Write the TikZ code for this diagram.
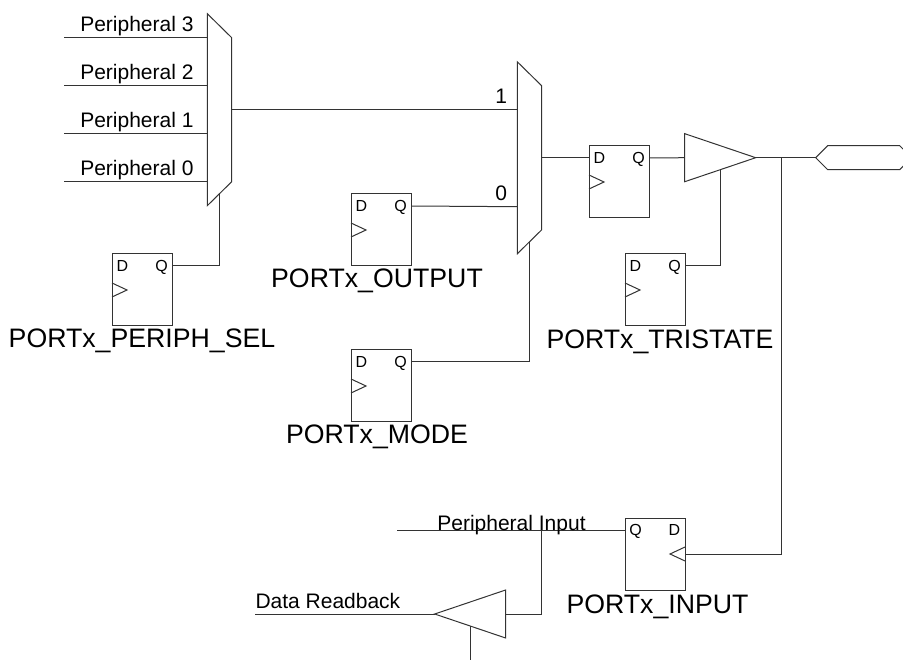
\documentclass[tikz,border=0pt]{standalone}
\usepackage{fontspec}
\setmainfont{Liberation Sans}
\usetikzlibrary{positioning, calc, shapes.geometric, shapes.symbols}

\begin{document}
\begin{tikzpicture}[
    x=1pt, y=-1pt,
    line width=1pt,
    wire/.style={draw=black!80},
    ffbox/.style={
        rectangle,
        draw=black!80,
        minimum width=60pt,
        minimum height=72pt,
        inner sep=0pt, outer sep=0pt
    },
    muxbody/.style={
        rectangle,
        minimum width=24.4pt,
        minimum height=192pt,
        inner sep=0pt, outer sep=0pt
    },
    bufshape/.style={
        isosceles triangle,
        draw=black!80,
        isosceles triangle apex angle=37.4,
        minimum height=71pt,
        inner sep=0pt, outer sep=0pt,
        anchor=lower side
    },
    padshape/.style={
        signal,
        signal to=west and east,
        signal pointer angle=90,
        draw=black!80,
        minimum width=96pt,
        minimum height=24pt,
        inner sep=0pt, outer sep=0pt,
        anchor=west
    },
    pintext/.style={
        font=\fontsize{16}{16}\selectfont,
        inner sep=0pt,
        text height=11.5pt, text depth=0pt
    },
    wiretext/.style={font=\fontsize{21}{21}\selectfont, inner sep=0pt},
    portname/.style={
        font=\fontsize{26.7}{26.7}\selectfont,
        inner sep=0pt,
        text height=20pt, text depth=6pt
    }
]
\clip (0,0) rectangle (903,660);

% Multiplexers
\node[muxbody] (muxperiph) at (219.5,109.7) {};
\node[muxbody] (muxout) at (529.5,157.8) {};
\foreach \mux in {muxperiph,muxout} {
    \draw[wire] (\mux.north west) -- ($(\mux.north east)+(0,24)$)
        -- ($(\mux.south east)+(0,-24)$) -- (\mux.south west) -- cycle;
    \coordinate (\mux-sel) at ($(\mux.south)+(0,-12)$);
}

% Registers
\node[ffbox] (ffperiph) at (142,290) {};
\node[ffbox] (ffoutput) at (381,230) {};
\node[ffbox,below=84pt of ffoutput] (ffmode) {};
\node[ffbox] (ffq) at (619,182) {};
\node[ffbox,below=36pt of ffq,xshift=36pt] (fftristate) {};
\node[ffbox,below=192pt of fftristate] (ffinput) {};

\foreach \ff in {ffperiph,ffoutput,ffmode,ffq,fftristate} {
    \node[pintext] (\ff-d) at ($(\ff.north west)+(10.5,12)$) {D};
    \node[pintext] (\ff-q) at ($(\ff.north west)+(49.5,12)$) {Q};
    \draw[wire] ($(\ff.north west)+(0,29)$) -- ++(15,7) -- ++(-15,7);
}
\node[pintext] (ffinput-q) at ($(ffinput.north west)+(10.5,12)$) {Q};
\node[pintext] (ffinput-d) at ($(ffinput.north west)+(49.5,12)$) {D};
\draw[wire] ($(ffinput.north east)+(0,29)$) -- ++(-15,7) coordinate (ffinput-clk) -- ++(15,7);

% Port names
\node[portname,below=1pt of ffperiph] (nameperiph) {PORTx\_PERIPH\_SEL};
\node[portname,below=1pt of ffoutput,xshift=-4pt] (nameoutput) {PORTx\_OUTPUT};
\node[portname,below=1.3pt of ffmode,xshift=-4pt] (namemode) {PORTx\_MODE};
\node[portname,below=2pt of fftristate,xshift=5pt] (nametristate) {PORTx\_TRISTATE};
\node[portname,below=3pt of ffinput,xshift=2.5pt] (nameinput) {PORTx\_INPUT};

% Buffers and pad
\node[bufshape] (bufout) at (684.7,157.7) {};
\node[bufshape,shape border rotate=180] (bufin) at (505.7,614) {};
\node[padshape] (padout) at (815.7,157.7) {};

% Peripheral inputs
\foreach \i/\ypos in {3/37.7,2/85.7,1/133.7,0/181.7} {
    \coordinate (inp\i) at (64.3,\ypos);
    \draw[wire] (inp\i) -- (inp\i -| muxperiph.west);
    \node[wiretext,anchor=base west] (labelp\i) at ($(inp\i)+(15.5,-6)$) {Peripheral \i};
}

% Output path
\draw[wire] (muxperiph.east) -- (muxperiph.east -| muxout.west)
    node[wiretext,pos=1,anchor=base,xshift=-16pt,yshift=6pt] (labelone) {1};
\draw[wire] (ffoutput.east |- ffoutput-q) -- (muxout.west |- 0,206.7)
    node[wiretext,pos=1,anchor=base,xshift=-16pt,yshift=6pt] (labelzero) {0};
\draw[wire] (muxout.east) -- (ffq.west |- muxout.east);
\draw[wire] (ffq.east |- ffq-q) -- (bufout.lower side);
\draw[wire] (bufout.apex) -- (padout.west);

% Select lines
\draw[wire] (ffperiph.east |- ffperiph-q) -| (muxperiph-sel);
\draw[wire] (ffmode.east |- ffmode-q) -| (muxout-sel);
\draw[wire] (fftristate.east |- fftristate-q) -| (bufout.right side);

% Input path
\coordinate (outtap) at (781,157.7);
\draw[wire] (outtap) |- (ffinput.east |- ffinput-clk);
\coordinate (inpfree) at (397,530);
\coordinate (inptap) at (541.7,530);
\draw[wire] (inpfree) -- (ffinput.west |- ffinput-q);
\node[wiretext,anchor=base] (labelinput) at (511.5,530.7) {Peripheral Input};
\draw[wire] (inptap) |- (bufin.lower side);
\coordinate (readback) at (255,614);
\draw[wire] (bufin.apex) -- (readback);
\node[wiretext,anchor=base west] (labelreadback) at ($(readback)+(0,-6)$) {Data Readback};
\coordinate (enfree) at (bufin.left side |- 0,660);
\draw[wire] (bufin.left side) -- (enfree);

\end{tikzpicture}
\end{document}
